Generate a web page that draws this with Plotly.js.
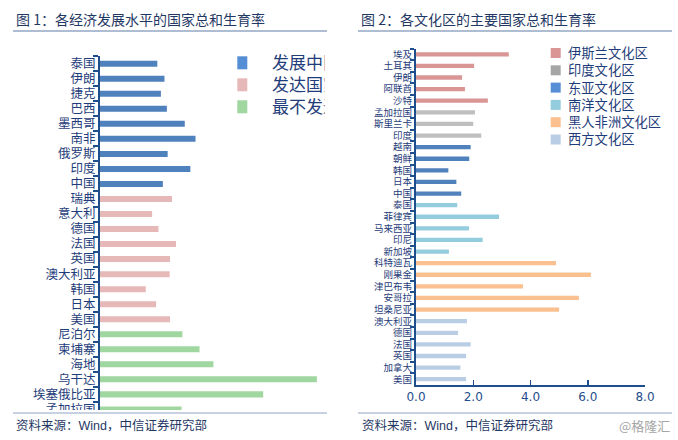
<!DOCTYPE html>
<html><head><meta charset="utf-8">
<script src="https://cdn.plot.ly/plotly-3.0.1.min.js"></script>
<style>html,body{margin:0;padding:0;background:#fff;overflow:hidden;} #chart{width:678px;height:440px;}</style>
</head><body><div id="chart"></div>
<script>
// ---------- Data: Figure 1 ----------
const developingCountries = ['泰国','伊朗','捷克','巴西','墨西哥','南非','俄罗斯','印度','中国'];
const developingTFR = [1.44, 1.62, 1.53, 1.68, 2.13, 2.40, 1.70, 2.27, 1.58];
const developedCountries = ['瑞典','意大利','德国','法国','英国','澳大利亚','韩国','日本','美国'];
const developedTFR = [1.81, 1.31, 1.47, 1.91, 1.76, 1.75, 1.15, 1.41, 1.76];
const ldcCountries = ['尼泊尔','柬埔寨','海地','乌干达','埃塞俄比亚','孟加拉国'];
const ldcTFR = [2.07, 2.50, 2.85, 5.45, 4.10, 2.05];
const fig1Legend = ['发展中国家','发达国家','最不发达国家'];

// ---------- Data: Figure 2 ----------
const islamCountries = ['埃及','土耳其','伊朗','阿联酋','沙特'];
const islamTFR = [3.24, 2.03, 1.61, 1.71, 2.51];
const indiaCountries = ['孟加拉国','斯里兰卡','印度'];
const indiaTFR = [2.06, 2.00, 2.28];
const eastAsiaCountries = ['越南','朝鲜','韩国','日本','中国'];
const eastAsiaTFR = [1.91, 1.86, 1.13, 1.41, 1.58];
const nanyangCountries = ['泰国','菲律宾','马来西亚','印尼','新加坡'];
const nanyangTFR = [1.44, 2.90, 1.85, 2.33, 1.15];
const africaCountries = ['科特迪瓦','刚果金','津巴布韦','安哥拉','坦桑尼亚'];
const africaTFR = [4.89, 6.11, 3.74, 5.69, 5.00];
const westCountries = ['澳大利亚','德国','法国','英国','加拿大','美国'];
const westTFR = [1.78, 1.47, 1.91, 1.75, 1.55, 1.75];
const fig2Legend = ['伊斯兰文化区','印度文化区','东亚文化区','南洋文化区','黑人非洲文化区','西方文化区'];
const xTickVals = [0, 2, 4, 6, 8];

// ---------- Styling ----------
const W = 678, H = 440;
const FONT = '"Noto Sans CJK SC", "Noto Sans", sans-serif';
const TICKFONT = '"Liberation Sans", "Noto Sans CJK SC", sans-serif';
const NAVY = '#1f3d7a';
const AXIS = '#1f4e8c';
const fx = p => p / W;
const fy = p => 1 - p / H;

const fig1Colors = ['#4f81bd', '#e6b9b8', '#a0d6a0'];
const fig1LegendColors = ['#558ed5', '#e6b9b8', '#a0d6a0'];
const fig2Colors = ['#d99694', '#bfbfbf', '#4f81bd', '#93cddd', '#fac090', '#b9cde5'];
const fig2LegendColors = ['#d99694', '#a6a6a6', '#558ed5', '#93cddd', '#fac090', '#b9cde5'];

const leftCats = developingCountries.concat(developedCountries, ldcCountries);
const rightCats = islamCountries.concat(indiaCountries, eastAsiaCountries, nanyangCountries, africaCountries, westCountries);

function barTrace(y, x, color, xa, ya, w) {
  return {type: 'bar', orientation: 'h', x: x, y: y, xaxis: xa, yaxis: ya,
    marker: {color: color, line: {width: 0}}, width: w, showlegend: false, hoverinfo: 'x+y'};
}

const data = [
  barTrace(developingCountries, developingTFR, fig1Colors[0], 'x', 'y', 0.4),
  barTrace(developedCountries, developedTFR, fig1Colors[1], 'x', 'y', 0.4),
  barTrace(ldcCountries, ldcTFR, fig1Colors[2], 'x', 'y', 0.4),
  barTrace(islamCountries, islamTFR, fig2Colors[0], 'x2', 'y2', 0.37),
  barTrace(indiaCountries, indiaTFR, fig2Colors[1], 'x2', 'y2', 0.37),
  barTrace(eastAsiaCountries, eastAsiaTFR, fig2Colors[2], 'x2', 'y2', 0.37),
  barTrace(nanyangCountries, nanyangTFR, fig2Colors[3], 'x2', 'y2', 0.37),
  barTrace(africaCountries, africaTFR, fig2Colors[4], 'x2', 'y2', 0.37),
  barTrace(westCountries, westTFR, fig2Colors[5], 'x2', 'y2', 0.37)
];

const shapes = [];
const annotations = [];

// white mask to clip bottom of figure 1 labels
shapes.push({type: 'rect', xref: 'paper', yref: 'paper', layer: 'above',
  x0: 0, x1: fx(340), y0: 0, y1: fy(410), fillcolor: '#ffffff', line: {width: 0}});

// title underlines and source lines
[[13, 327], [358, 672]].forEach(([a, b]) => {
  shapes.push({type: 'line', xref: 'paper', yref: 'paper', layer: 'above',
    x0: fx(a), x1: fx(b), y0: fy(31), y1: fy(31), line: {color: '#95a7c5', width: 1.5}});
  shapes.push({type: 'line', xref: 'paper', yref: 'paper', layer: 'above',
    x0: fx(a), x1: fx(b), y0: fy(413), y1: fy(413), line: {color: '#b4c2d8', width: 1.5}});
});

function textAnn(txt, x, y, size, color, extra, fam) {
  return Object.assign({text: txt, xref: 'paper', yref: 'paper', x: fx(x), y: fy(y),
    xanchor: 'left', yanchor: 'middle', showarrow: false, borderpad: 0,
    font: {family: fam || FONT, size: size, color: color}}, extra || {});
}

annotations.push(textAnn('图 1：各经济发展水平的国家总和生育率', 15, 19.5, 14, '#1f3864'));
annotations.push(textAnn('图 2：各文化区的主要国家总和生育率', 360, 19.5, 14, '#1f3864'));
annotations.push(textAnn('资料来源：Wind，中信证券研究部', 15, 425.5, 12.5, '#1f3864', null, TICKFONT));
annotations.push(textAnn('资料来源：Wind，中信证券研究部', 361, 425.5, 12.5, '#1f3864', null, TICKFONT));
annotations.push(textAnn('@格隆汇', 618, 425, 13, '#a6a6a6'));

// Figure 1 legend (text clipped at panel edge)
fig1Legend.forEach((name, i) => {
  const cy = 62.8 + i * 22;
  shapes.push({type: 'rect', xref: 'paper', yref: 'paper', layer: 'above',
    x0: fx(237.3), x1: fx(247.3), y0: fy(cy - 6.5), y1: fy(cy + 6.5),
    fillcolor: fig1LegendColors[i], line: {width: 0}});
  annotations.push(textAnn(name, 270.7, cy + 1, 17, NAVY, {width: 52.6, align: 'left'}, TICKFONT));
});

// Figure 2 legend
fig2Legend.forEach((name, i) => {
  const cy = 53 + i * 17.3;
  shapes.push({type: 'rect', xref: 'paper', yref: 'paper', layer: 'above',
    x0: fx(550.7), x1: fx(560.7), y0: fy(cy - 5), y1: fy(cy + 5),
    fillcolor: fig2LegendColors[i], line: {width: 0}});
});
annotations.push(textAnn(fig2Legend.join('<br>'), 566.7, 52.5 + 2.5 * 17.3, 13.3, NAVY, {align: 'left'}));

const layout = {
  width: W, height: H,
  margin: {l: 0, r: 0, t: 0, b: 0},
  paper_bgcolor: '#ffffff', plot_bgcolor: 'rgba(0,0,0,0)',
  barmode: 'overlay',
  showlegend: false,
  font: {family: FONT, color: NAVY},
  xaxis: {domain: [fx(100), fx(100 + 6 * 39.8)], range: [0, 6], visible: false, fixedrange: true, anchor: 'y'},
  yaxis: {domain: [fy(410), fy(56.2)], type: 'category', categoryorder: 'array', categoryarray: leftCats,
    range: [leftCats.length - 1 + 0.04, -0.5], anchor: 'x',
    tickmode: 'linear', tick0: 0, dtick: 1,
    showline: true, linecolor: AXIS, linewidth: 2, showgrid: false, zeroline: false,
    ticks: 'outside', tickson: 'boundaries', ticklen: 5, tickwidth: 2, tickcolor: AXIS,
    tickfont: {family: TICKFONT, size: 12.5, color: NAVY}, fixedrange: true},
  xaxis2: {domain: [fx(416), fx(645)], range: [0, 8], anchor: 'y2', tickvals: xTickVals, tickformat: '.1f',
    showline: true, linecolor: AXIS, linewidth: 2, showgrid: false, zeroline: false,
    ticks: 'inside', ticklen: 5, tickwidth: 1.5, tickcolor: AXIS,
    tickfont: {family: '"DejaVu Sans", sans-serif', size: 12, color: AXIS}, fixedrange: true},
  yaxis2: {domain: [fy(385), fy(48.5)], type: 'category', categoryorder: 'array', categoryarray: rightCats,
    range: [rightCats.length - 0.5, -0.5], anchor: 'x2',
    tickmode: 'linear', tick0: 0, dtick: 1,
    showline: true, linecolor: AXIS, linewidth: 2, showgrid: false, zeroline: false,
    ticks: 'outside', tickson: 'boundaries', ticklen: 4, tickwidth: 2, tickcolor: AXIS,
    tickfont: {family: TICKFONT, size: 9.5, color: NAVY}, fixedrange: true},
  shapes: shapes,
  annotations: annotations
};

Plotly.newPlot('chart', data, layout, {displayModeBar: false, staticPlot: true});
</script>
</body></html>
